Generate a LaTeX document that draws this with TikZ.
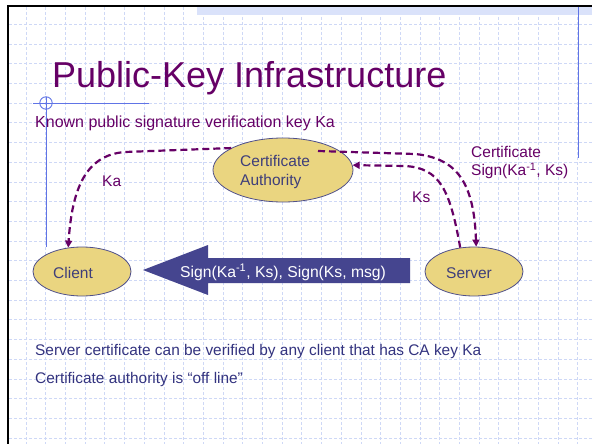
\documentclass[tikz,border=0pt]{standalone}
\usepackage{fontspec}
\setmainfont{Liberation Sans}
\usetikzlibrary{shapes.geometric,arrows.meta}
\definecolor{pkpurple}{HTML}{660066}
\definecolor{pkgrid}{RGB}{206,216,246}
\definecolor{pkband}{RGB}{218,226,250}
\definecolor{pkblue}{RGB}{96,116,230}
\definecolor{pkfill}{HTML}{EAD580}
\definecolor{pkedge}{HTML}{50508A}
\definecolor{pktext}{HTML}{3E3E7A}
\definecolor{pkarrow}{HTML}{45458F}
\definecolor{pknote}{HTML}{33337F}
\tikzset{
  gridline/.style={draw=pkgrid, line width=0.8pt, dash pattern=on 3pt off 2pt},
  guide/.style={draw=pkblue, line width=0.9pt},
  oval/.style={ellipse, draw=pkedge, line width=0.8pt, fill=pkfill, inner sep=0pt},
  ovaltext/.style={anchor=base west, inner sep=0pt, text=pktext, font=\fontsize{15.5}{18.5}\selectfont, align=left},
  flow/.style={draw=pkpurple, line width=2.2pt, dash pattern=on 7pt off 4pt, -{Triangle[length=7pt,width=7pt]}},
  flowlabel/.style={anchor=base west, inner sep=0pt, text=pkpurple, font=\fontsize{15.5}{18.5}\selectfont, align=left},
  note/.style={anchor=base west, inner sep=0pt, text=pknote, font=\fontsize{15.4}{18}\selectfont},
}
\begin{document}
\begin{tikzpicture}[x=1pt,y=-1pt]
\useasboundingbox (0,0) rectangle (592,444);
\fill[white] (0,0) rectangle (592,444);
% grid
\foreach \i in {0,...,28} \draw[gridline] ({26+19.7*\i},7) -- ({26+19.7*\i},444);
\foreach \j in {0,...,21} \draw[gridline] (9,{24.3+19.7*\j}) -- (592,{24.3+19.7*\j});
% top band
\fill[pkband] (197,7) rectangle (592,15);
% frame
\draw[black, line width=2.3pt] (592,6) -- (7.8,6) -- (7.8,444);
% guides
\draw[guide] (578,7) -- (578,158);
\draw[guide] (33,103) -- (149,103);
\draw[guide] (46,97) -- (46,247);
\draw[guide] (46,103) circle (6.2);
% title
\node[anchor=base west, inner sep=0pt, text=pkpurple, font=\fontsize{36}{36}\selectfont] (title) at (52,88) {Public-Key Infrastructure};
\node[anchor=base west, inner sep=0pt, text=pkpurple, font=\fontsize{16}{18}\selectfont] (known) at (35,128) {Known public signature verification key Ka};
% big arrow
\fill[pkarrow] (143,270) -- (208,245) -- (208,258) -- (410,258) -- (410,283) -- (208,283) -- (208,295) -- cycle;
\node[anchor=base west, inner sep=0pt, text=white, font=\fontsize{15.7}{18}\selectfont] (msg) at (180,277) {Sign(Ka\textsuperscript{-1}, Ks), Sign(Ks, msg)};
% ellipses
\node[oval, minimum width=140pt, minimum height=64pt] (ca) at (283,170) {};
\node[oval, minimum width=98pt, minimum height=49pt] (client) at (82,271.5) {};
\node[oval, minimum width=98pt, minimum height=49pt] (server) at (474,271.5) {};
\node[ovaltext] (catext) at (240,185) {Certificate\\Authority};
\node[ovaltext] (clienttext) at (53,278) {Client};
\node[ovaltext] (servertext) at (446,278) {Server};
% dashed connectors
\coordinate (castart) at (318,151);
\draw[flow] (ca.157) -- (125,152) .. controls (85,155) and (72,190) .. (client.120);
\draw[flow] (castart) -- (415,154) .. controls (455,158) and (474,180) .. (server.85);
\draw[flow] (server.120) .. controls (450,190) and (440,168) .. (405,166) -- (ca.4);
% labels
\node[flowlabel] (ka) at (102,186) {Ka};
\node[flowlabel] (ks) at (412,202) {Ks};
\node[flowlabel] (cert) at (471,175.5) {Certificate\\Sign(Ka\textsuperscript{-1}, Ks)};
% notes
\node[note] (note1) at (35,355) {Server certificate can be verified by any client that has CA key Ka};
\node[note] (note2) at (35,383) {Certificate authority is “off line”};
\end{tikzpicture}
\end{document}
